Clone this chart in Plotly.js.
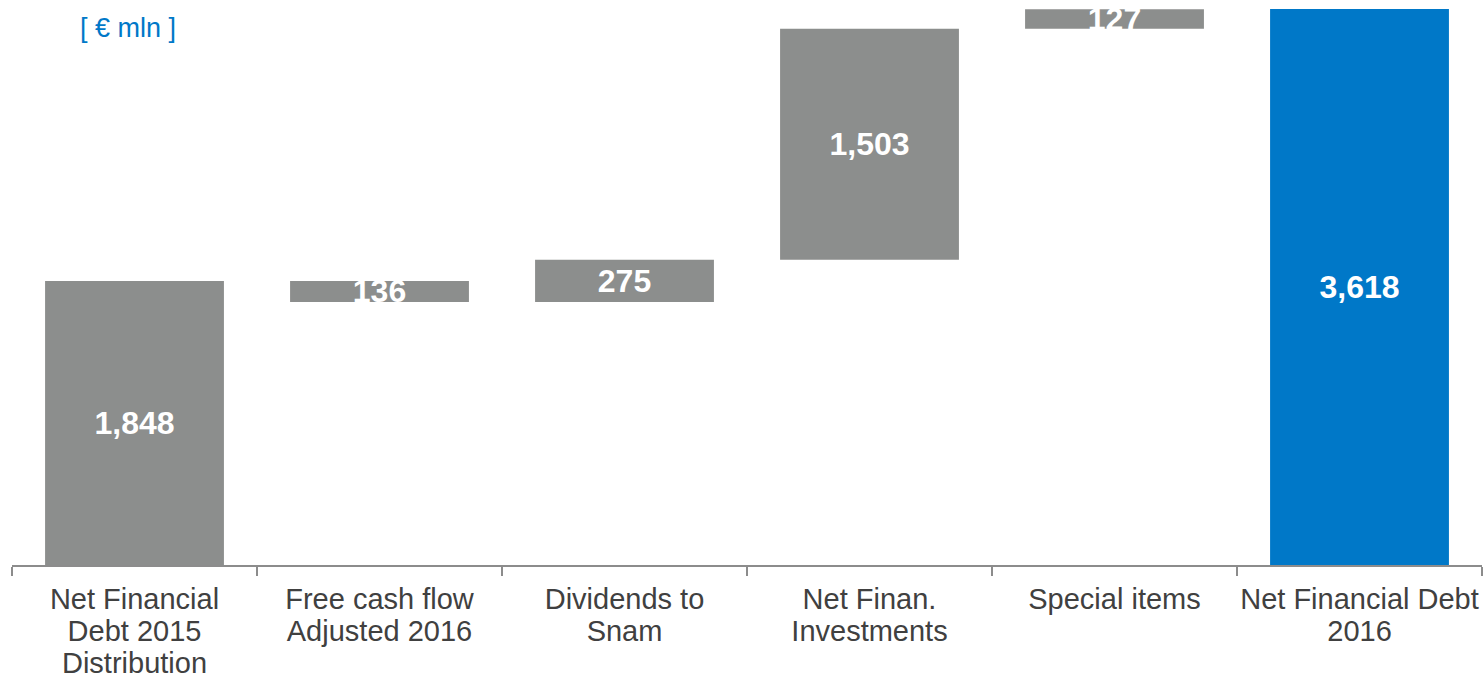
<!DOCTYPE html>
<html>
<head>
<meta charset="utf-8">
<script src="https://cdn.plot.ly/plotly-3.0.1.min.js"></script>
<style>html,body{margin:0;padding:0;background:#fff;}#chart{width:1484px;height:679px;}</style>
</head>
<body>
<div id="chart"></div>
<script>
// Data
const categories = [
  "Net Financial<br>Debt 2015<br>Distribution",
  "Free cash flow<br>Adjusted 2016",
  "Dividends to<br>Snam",
  "Net Finan.<br>Investments",
  "Special items",
  "Net Financial Debt<br>2016"
];
const values = [1848, -136, 275, 1503, 127, 3618];
const measures = ["absolute", "relative", "relative", "relative", "relative", "absolute"];
const labels = ["1,848", "136", "275", "1,503", "127", "3,618"];
const barColors = ["#8C8E8D", "#8C8E8D", "#8C8E8D", "#8C8E8D", "#8C8E8D", "#0078C8"];

// Build floating bars (waterfall) from the values
const bases = [], heights = [];
let running = 0;
for (let i = 0; i < values.length; i++) {
  if (measures[i] === "absolute") {
    bases.push(0); heights.push(values[i]); running = values[i];
  } else {
    const next = running + values[i];
    bases.push(Math.min(running, next));
    heights.push(Math.abs(values[i]));
    running = next;
  }
}

const FONT = "Liberation Sans, Arial, sans-serif";

const trace = {
  type: "bar",
  x: categories,
  y: heights,
  base: bases,
  marker: { color: barColors, line: { width: 0 } },
  text: labels,
  texttemplate: "%{text}",
  textposition: "inside",
  insidetextanchor: "middle",
  constraintext: "none",
  textangle: 0,
  insidetextfont: { family: FONT, size: 32, color: "#ffffff", weight: 700 },
  hoverinfo: "skip",
  cliponaxis: false
};

const layout = {
  width: 1484,
  height: 679,
  margin: { l: 12, r: 2, t: 9, b: 114 },
  paper_bgcolor: "#ffffff",
  plot_bgcolor: "#ffffff",
  bargap: 0.27,
  showlegend: false,
  xaxis: {
    type: "category",
    showline: true,
    linecolor: "#8C8C8C",
    linewidth: 2,
    ticks: "outside",
    tickson: "boundaries",
    ticklen: 9,
    tickwidth: 2,
    tickcolor: "#8C8C8C",
    showgrid: false,
    zeroline: false,
    tickangle: 0,
    tickfont: { family: FONT, size: 29, color: "#404040" },
    ticklabelstandoff: 7,
    fixedrange: true
  },
  yaxis: {
    visible: false,
    range: [0, 3618],
    showgrid: false,
    zeroline: false,
    fixedrange: true
  },
  annotations: [{
    text: "[ € mln ]",
    xref: "paper", yref: "paper",
    x: (128 - 12) / 1470,
    y: (565 - 28) / 556,
    xanchor: "center", yanchor: "middle",
    showarrow: false,
    font: { family: FONT, size: 27, color: "#0078C8" }
  }]
};

Plotly.newPlot("chart", [trace], layout, { staticPlot: true, displayModeBar: false }).then(function () {
  // tighten line spacing of the multi-line category labels (reference uses ~1.1em)
  document.querySelectorAll("#chart .xtick text").forEach(function (txt) {
    txt.querySelectorAll("tspan.line").forEach(function (t, i) {
      t.setAttribute("dy", (i * 1.1).toFixed(2) + "em");
    });
  });
});
</script>
</body>
</html>
